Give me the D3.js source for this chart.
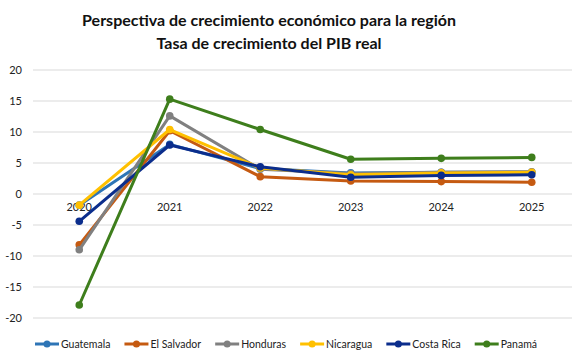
<!DOCTYPE html>
<html><head><meta charset="utf-8">
<script src="https://cdn.jsdelivr.net/npm/d3@7"></script>
<style>body{margin:0;background:#fff}svg{display:block}</style>
</head><body>
<svg id="c" width="572" height="360"></svg>
<script>
const years = ["2020","2021","2022","2023","2024","2025"];
const guatemala = [-1.8, 8.0, 4.1, 3.4, 3.5, 3.5];
const elSalvador = [-8.2, 10.2, 2.8, 2.1, 2.0, 1.9];
const honduras = [-9.0, 12.6, 4.0, 3.3, 3.5, 3.6];
const nicaragua = [-1.8, 10.4, 4.2, 3.1, 3.4, 3.5];
const costaRica = [-4.4, 7.9, 4.4, 2.7, 3.0, 3.1];
const panama = [-17.9, 15.3, 10.4, 5.6, 5.75, 5.9];
const seriesNames = ["Guatemala","El Salvador","Honduras","Nicaragua","Costa Rica","Panamá"];
const seriesValues = [guatemala, elSalvador, honduras, nicaragua, costaRica, panama];
const colors = ["#2E75B6","#C55A11","#808080","#FFC000","#0B2D8C","#3E7E1C"];
const yTicks = [20,15,10,5,0,-5,-10,-15,-20];

const svg = d3.select("#c");
const font = "Lato, 'Open Sans', sans-serif";

const x = d3.scalePoint().domain(years).range([34,577]).padding(0.5);
const y = d3.scaleLinear().domain([-20,20]).range([318,70]);

svg.append("g").selectAll("line").data(yTicks).join("line")
  .attr("x1",33).attr("x2",572)
  .attr("y1",d=>y(d)).attr("y2",d=>y(d))
  .attr("stroke","#d9d9d9").attr("stroke-width",1);

svg.append("g").selectAll("text").data(yTicks).join("text")
  .attr("x",22).attr("y",d=>y(d)+4)
  .attr("text-anchor","end").attr("font-family",font).attr("font-size",11).attr("fill","#222")
  .text(d=>d);

svg.append("g").selectAll("text").data(years).join("text")
  .attr("x",d=>x(d)).attr("y",y(0)+17)
  .attr("text-anchor","middle").attr("font-family",font).attr("font-size",11).attr("fill","#222")
  .text(d=>d);

const line = d3.line().x((d,i)=>x(years[i])).y(d=>y(d));
seriesValues.forEach((vals,si)=>{
  const g = svg.append("g");
  g.append("path").attr("d",line(vals)).attr("fill","none")
    .attr("stroke",colors[si]).attr("stroke-width",3).attr("stroke-linejoin","round");
  g.selectAll("circle").data(vals).join("circle")
    .attr("cx",(d,i)=>x(years[i])).attr("cy",d=>y(d)).attr("r",3.8)
    .attr("fill",colors[si]);
});

svg.append("text").attr("x",269).attr("y",26).attr("text-anchor","middle")
  .attr("font-family",font).attr("font-weight","bold").attr("font-size",16).attr("fill","#111")
  .text("Perspectiva de crecimiento económico para la región");
svg.append("text").attr("x",269).attr("y",49).attr("text-anchor","middle")
  .attr("font-family",font).attr("font-weight","bold").attr("font-size",16).attr("fill","#111")
  .text("Tasa de crecimiento del PIB real");

// legend laid out sequentially
const lg = svg.append("g");
const items = seriesNames.map((n,i)=>{
  const g = lg.append("g");
  g.append("line").attr("x1",0).attr("x2",24).attr("y1",0).attr("y2",0)
    .attr("stroke",colors[i]).attr("stroke-width",3);
  g.append("circle").attr("cx",12).attr("cy",0).attr("r",3.5).attr("fill",colors[i]);
  const t = g.append("text").attr("x",26).attr("y",4).attr("font-family",font).attr("font-size",10.5)
    .attr("fill","#222").text(n);
  return {g, w: 26 + t.node().getComputedTextLength()};
});
const total = 537 - 35;
const sumW = d3.sum(items, d=>d.w);
const gap = (total - sumW) / (items.length - 1);
let cx = 35;
items.forEach(it=>{ it.g.attr("transform",`translate(${cx},344)`); cx += it.w + gap; });
</script>
</body></html>
